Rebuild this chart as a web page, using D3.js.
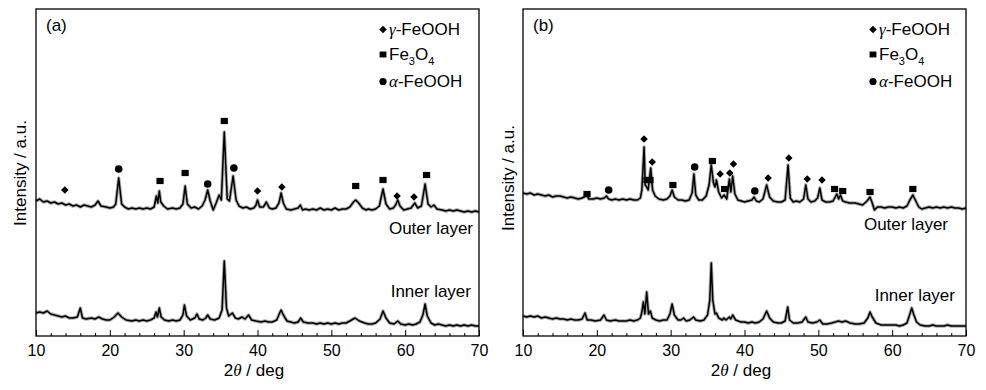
<!DOCTYPE html>
<html><head><meta charset="utf-8">
<script src="https://cdn.jsdelivr.net/npm/d3@7"></script>
<style>
body{margin:0;background:#fff;}
svg text{font-family:"Liberation Sans",Arial,sans-serif;fill:#000;}
</style></head><body>
<svg id="chart" width="986" height="390"></svg>
<script>
// ---------- data ----------
const xTickValues = [10, 20, 30, 40, 50, 60, 70];
const xMinorTicks = [12, 14, 16, 18, 22, 24, 26, 28, 32, 34, 36, 38, 42, 44, 46, 48, 52, 54, 56, 58, 62, 64, 66, 68];
const xDomain = [10, 70];
const yDomain = [0, 327];

// panel (a): 2theta (deg), intensity (a.u., stacked)
const outerA = [[10.0,135],[10.5,137],[11.0,134],[11.5,135],[12.0,133],[12.5,134],[13.0,132],[13.5,133],[14.0,131],[14.5,132],[15.0,130],[15.5,131],[16.0,129],[16.5,131],[17.0,130],[17.5,129],[18.0,131],[18.4,135],[18.8,130],[19.5,129],[20.0,128],[20.5,129],[20.8,132],[21.2,158],[21.6,132],[22.0,129],[22.5,127],[23.0,128],[23.5,127],[24.0,128],[24.5,127],[25.0,128],[25.5,127],[26.0,129],[26.3,140],[26.5,133],[26.7,145],[26.9,134],[27.3,130],[27.8,127],[28.5,128],[29.0,127],[29.5,128],[29.9,132],[30.2,150],[30.5,132],[31.0,128],[31.5,129],[32.0,127],[32.5,130],[32.9,136],[33.25,146],[33.6,135],[34.0,126],[34.4,133],[34.8,141],[35.1,136],[35.5,204],[35.9,137],[36.2,135],[36.7,160],[37.1,136],[37.5,130],[38.0,128],[38.5,129],[39.0,127],[39.5,128],[39.8,131],[40.0,136],[40.3,129],[40.8,129],[41.2,134],[41.6,128],[42.0,127],[42.5,128],[42.9,133],[43.2,143],[43.5,133],[43.9,127],[44.5,126],[45.0,127],[45.5,128],[45.8,131],[46.1,126],[46.5,127],[47.0,126],[47.5,127],[48.0,126],[48.5,128],[49.0,126],[49.5,127],[50.0,126],[50.5,128],[51.0,126],[51.5,127],[52.0,127],[52.5,129],[53.0,134],[53.3,136],[53.7,133],[54.2,128],[54.7,126],[55.0,127],[55.5,126],[56.0,127],[56.5,130],[57.0,147],[57.4,132],[57.9,127],[58.4,128],[58.7,131],[59.0,136],[59.3,130],[59.8,126],[60.3,127],[60.8,128],[61.3,133],[61.7,128],[62.2,130],[62.7,152],[63.1,132],[63.5,129],[63.9,131],[64.3,127],[65.0,126],[65.5,125],[66.0,126],[66.5,125],[67.0,126],[67.5,125],[68.0,124],[68.5,125],[69.0,124],[69.5,125],[70.0,124]];
const innerA = [[10.0,23],[10.5,24],[11.0,23],[11.5,25],[12.0,22],[12.5,21],[13.0,20],[13.5,19],[14.0,20],[14.5,18],[15.0,18],[15.6,19],[16.0,28],[16.3,18],[16.8,17],[17.5,18],[18.0,17],[18.5,19],[19.0,17],[19.5,16],[20.0,16],[20.6,19],[21.1,23],[21.6,19],[22.2,16],[23.0,15],[23.5,16],[24.0,15],[24.5,16],[25.0,15],[25.5,16],[26.0,18],[26.25,24],[26.45,19],[26.7,28],[26.95,19],[27.4,16],[28.0,15],[28.5,16],[29.0,15],[29.5,16],[29.9,21],[30.1,31],[30.4,20],[30.9,16],[31.5,18],[31.8,22],[32.1,17],[32.6,16],[33.0,18],[33.25,21],[33.6,17],[34.2,16],[34.8,18],[35.2,26],[35.5,75],[35.8,28],[36.1,20],[36.6,23],[37.0,18],[37.4,17],[37.9,19],[38.3,17],[38.8,21],[39.2,16],[39.8,15],[40.5,14],[41.0,15],[41.5,14],[42.0,14],[42.6,16],[43.0,23],[43.2,26],[43.5,21],[44.0,15],[44.5,14],[45.0,13],[45.5,14],[45.85,18],[46.2,14],[46.8,13],[47.5,13],[48.0,12],[48.5,13],[49.0,12],[49.5,13],[50.0,12],[50.5,13],[51.0,12],[51.5,13],[52.0,13],[52.5,15],[53.2,18],[53.8,15],[54.5,13],[55.0,12],[55.5,12],[56.0,13],[56.6,17],[57.0,25],[57.4,18],[57.9,13],[58.5,12],[59.0,15],[59.4,12],[60.0,11],[60.5,12],[61.0,11],[61.5,12],[62.0,14],[62.4,21],[62.7,32],[63.0,20],[63.5,13],[64.0,11],[64.5,12],[65.0,11],[65.5,10],[66.0,11],[66.5,10],[67.0,11],[67.5,10],[68.0,11],[68.5,10],[69.0,11],[69.5,10],[70.0,10]];

// panel (b)
const outerB = [[10.0,143],[10.5,142],[11.0,143],[11.5,141],[12.0,142],[12.5,141],[13.0,140],[13.5,141],[14.0,139],[14.5,140],[15.0,140],[15.5,139],[16.0,138],[16.5,139],[17.0,138],[17.5,137],[18.0,138],[18.3,139],[18.6,142],[18.9,137],[19.5,137],[20.0,138],[20.5,137],[21.0,138],[21.3,140],[21.6,137],[22.0,136],[22.5,137],[23.0,136],[23.5,137],[24.0,136],[24.5,137],[25.0,136],[25.5,136],[25.9,138],[26.1,146],[26.4,189],[26.55,151],[26.75,149],[26.95,146],[27.3,168],[27.55,146],[27.9,140],[28.4,137],[29.0,136],[29.5,137],[29.9,140],[30.2,146],[30.5,139],[31.0,136],[31.5,136],[32.0,135],[32.5,136],[32.9,143],[33.15,162],[33.4,141],[33.8,136],[34.3,136],[34.8,140],[35.2,151],[35.5,171],[35.8,153],[36.0,149],[36.2,156],[36.5,144],[36.9,138],[37.25,141],[37.6,137],[37.95,157],[38.15,144],[38.4,160],[38.7,142],[39.1,136],[39.6,135],[40.0,134],[40.5,135],[41.0,136],[41.3,139],[41.6,135],[42.0,134],[42.5,137],[43.0,151],[43.4,139],[43.9,135],[44.5,134],[45.0,134],[45.5,136],[45.9,171],[46.2,138],[46.6,134],[47.0,135],[47.5,134],[48.0,137],[48.3,151],[48.6,137],[49.0,134],[49.5,135],[49.9,138],[50.2,148],[50.5,136],[51.0,134],[51.5,134],[52.0,135],[52.5,142],[52.75,137],[53.0,141],[53.3,135],[53.7,134],[54.2,133],[54.7,133],[55.0,133],[55.5,132],[56.0,131],[56.6,135],[57.0,139],[57.3,133],[57.6,126],[58.0,129],[58.5,129],[59.0,128],[59.5,129],[60.0,129],[60.5,128],[61.0,129],[61.5,128],[62.0,130],[62.4,136],[62.8,141],[63.2,135],[63.6,129],[64.0,127],[64.5,128],[65.0,129],[65.5,128],[66.0,129],[66.5,128],[67.0,129],[67.5,128],[68.0,129],[68.5,128],[69.0,128],[69.5,127],[70.0,128]];
const innerB = [[10.0,20],[10.5,19],[11.0,20],[11.5,19],[12.0,20],[12.5,18],[13.0,19],[13.5,18],[14.0,17],[14.5,18],[15.0,17],[15.5,17],[16.0,16],[16.5,17],[17.0,16],[17.5,16],[18.0,17],[18.4,23],[18.7,16],[19.2,16],[19.8,15],[20.5,16],[20.97,21],[21.3,16],[21.8,15],[22.5,16],[23.0,15],[23.5,15],[24.0,15],[24.5,16],[25.0,15],[25.5,16],[25.9,18],[26.1,24],[26.3,34],[26.5,22],[26.75,44],[27.0,22],[27.25,25],[27.5,18],[28.0,16],[28.5,15],[29.0,16],[29.5,16],[29.9,22],[30.2,32],[30.5,21],[31.0,16],[31.4,16],[31.75,18],[32.1,15],[32.6,16],[33.1,19],[33.4,16],[34.0,15],[34.5,16],[35.0,21],[35.3,36],[35.5,73],[35.7,36],[36.0,22],[36.2,23],[36.5,18],[37.0,16],[37.2,18],[37.5,16],[37.95,19],[38.15,17],[38.4,21],[38.8,16],[39.5,14],[40.0,14],[40.5,13],[41.0,14],[41.5,13],[42.0,14],[42.5,17],[43.0,25],[43.4,18],[43.9,14],[44.5,13],[45.0,13],[45.5,15],[45.85,29],[46.1,16],[46.6,13],[47.2,13],[47.8,14],[48.3,19],[48.6,14],[49.2,13],[49.8,14],[50.2,16],[50.6,12],[51.2,12],[51.8,13],[52.3,14],[52.7,15],[53.2,14],[53.7,15],[54.3,13],[55.0,12],[55.5,12],[56.2,13],[56.7,18],[57.0,24],[57.3,19],[57.8,13],[58.5,11],[59.0,11],[59.5,11],[60.0,11],[60.5,11],[61.0,10],[61.5,11],[62.0,13],[62.4,22],[62.65,28],[62.9,22],[63.3,14],[63.8,11],[64.5,10],[65.0,10],[65.5,11],[66.0,10],[66.5,10],[67.0,10],[67.5,11],[68.0,10],[68.5,10],[69.0,10],[69.5,10],[70.0,10]];

// peak markers: [phase, 2theta, height]  d = gamma-FeOOH, s = Fe3O4, c = alpha-FeOOH
const markersA = [["d",13.9,146],["c",21.2,167],["s",26.8,155],["s",30.2,163],["c",33.25,152],["s",35.5,215],["c",36.8,168],["d",40.0,145],["d",43.3,149],["s",53.3,150],["s",57.0,156],["d",58.9,140],["d",61.2,139],["s",62.9,161]];
const markersB = [["s",18.67,142],["c",21.6,146],["d",26.4,197],["s",26.8,156],["s",27.2,156],["d",27.5,174],["s",30.3,151],["c",33.25,169],["s",35.65,175],["d",36.7,162],["s",37.3,147],["d",38.0,163],["d",38.5,172],["c",41.4,145],["d",43.2,158],["d",46.0,178],["d",48.5,157],["d",50.5,156],["s",52.2,147],["s",53.3,145],["s",57.0,144],["s",62.8,147]];

const legendPhases = ["d", "s", "c"];
const panelLabels = ["(a)", "(b)"];
const layerLabels = ["Outer layer", "Inner layer"];
const yTitle = "Intensity / a.u.";

// ---------- drawing ----------
const svg = d3.select("#chart");
svg.append("defs").append("clipPath").attr("id","clipA")
  .append("rect").attr("x",0).attr("y",0).attr("width",490).attr("height",390);

function drawMarker(g, type, cx, cy, s) {
  if (type === "d") {
    g.append("path").attr("d", d3.symbol().type(d3.symbolDiamond2).size(36 * s * s)())
      .attr("transform", `translate(${cx},${cy})`).attr("fill", "#000");
  } else if (type === "s") {
    g.append("rect").attr("x", cx - 3.6 * s).attr("y", cy - 3.1 * s)
      .attr("width", 7.2 * s).attr("height", 6.2 * s).attr("fill", "#000");
  } else {
    g.append("circle").attr("cx", cx).attr("cy", cy).attr("r", 3.8 * s).attr("fill", "#000");
  }
}

function drawPanel(cfg) {
  const g = svg.append("g");
  if (cfg.clip) g.attr("clip-path", "url(#clipA)");
  const x = d3.scaleLinear().domain(xDomain).range([cfg.left, cfg.right]);
  const y = d3.scaleLinear().domain(yDomain).range([336, 9]);
  const line = d3.line().x(d => x(d[0])).y(d => y(d[1]));

  cfg.series.forEach(s => {
    g.append("path").datum(s).attr("d", line)
      .attr("fill", "none").attr("stroke", "#444").attr("stroke-width", 3.4)
      .attr("stroke-linejoin", "round").attr("opacity", 0.45);
    g.append("path").datum(s).attr("d", line)
      .attr("fill", "none").attr("stroke", "#000").attr("stroke-width", 1.5)
      .attr("stroke-linejoin", "round");
  });

  cfg.markers.forEach(m => drawMarker(g, m[0], x(m[1]), y(m[2]), 1));

  // frame
  g.append("rect").attr("x", cfg.left).attr("y", 9)
    .attr("width", cfg.right - cfg.left).attr("height", 327)
    .attr("fill", "none").attr("stroke", "#000").attr("stroke-width", 1.3);

  // minor ticks
  const minor = g.append("g").attr("transform", "translate(0,336)")
    .call(d3.axisBottom(x).tickValues(xMinorTicks).tickSize(-3).tickFormat(""));
  minor.select(".domain").remove();
  minor.selectAll("line").attr("stroke", "#000").attr("stroke-width", 1);
  // major ticks
  const major = g.append("g").attr("transform", "translate(0,336)")
    .call(d3.axisBottom(x).tickValues(xTickValues).tickSize(-6).tickPadding(9).tickFormat(d3.format("d")));
  major.select(".domain").remove();
  major.selectAll("line").attr("stroke", "#000").attr("stroke-width", 1);
  major.attr("font-size", null).attr("font-family", null);
  major.selectAll("text").style("font-size", "16px").attr("fill", "#000");

  // x title
  const xt = g.append("text").attr("x", cfg.xTitleX).attr("y", 376)
    .attr("text-anchor", "middle").style("font-size", "17px");
  xt.append("tspan").text("2");
  xt.append("tspan").text("θ").style("font-family", "'Liberation Serif','Times New Roman',serif").style("font-style", "italic");
  xt.append("tspan").text(" / deg");

  // y title
  g.append("text").attr("transform", `translate(${cfg.yTitleX},${cfg.yTitleY}) rotate(-90)`)
    .attr("text-anchor", "middle").style("font-size", "17px").text(yTitle);

  // panel letter
  g.append("text").attr("x", cfg.left + 10).attr("y", 31).style("font-size", "17px").text(cfg.letter);

  // legend
  const rows = [35, 60, 87];
  legendPhases.forEach((p, i) => {
    drawMarker(g, p, cfg.legX, rows[i] - 5.5, p === "d" ? 1.0 : 0.95);
    const t = g.append("text").attr("x", cfg.legX + 6).attr("y", rows[i]).style("font-size", "17px");
    if (p === "d") {
      t.append("tspan").text("γ").style("font-family", "'Liberation Serif','Times New Roman',serif").style("font-style", "italic");
      t.append("tspan").text("-FeOOH");
    } else if (p === "s") {
      t.append("tspan").text("Fe");
      t.append("tspan").text("3").attr("dy", 5).style("font-size", "11px");
      t.append("tspan").text("O").attr("dy", -5);
      t.append("tspan").text("4").attr("dy", 5).style("font-size", "11px");
    } else {
      t.append("tspan").text("α").style("font-family", "'Liberation Serif','Times New Roman',serif").style("font-style", "italic");
      t.append("tspan").text("-FeOOH");
    }
  });

  // layer labels
  g.append("text").attr("x", cfg.outerX).attr("y", cfg.outerY).attr("text-anchor", "end")
    .style("font-size", "17px").text(layerLabels[0]);
  g.append("text").attr("x", cfg.innerX).attr("y", cfg.innerY).attr("text-anchor", "end")
    .style("font-size", "17px").text(layerLabels[1]);
}

drawPanel({left: 36, right: 479, clip: true, series: [outerA, innerA], markers: markersA,
  letter: panelLabels[0], xTitleX: 254, yTitleX: 26, yTitleY: 173, legX: 383,
  outerX: 473, outerY: 234, innerX: 471, innerY: 297});
drawPanel({left: 523, right: 966, clip: false, series: [outerB, innerB], markers: markersB,
  letter: panelLabels[1], xTitleX: 741, yTitleX: 514, yTitleY: 178, legX: 873,
  outerX: 948, outerY: 230, innerX: 955, innerY: 301});
</script>
</body></html>
